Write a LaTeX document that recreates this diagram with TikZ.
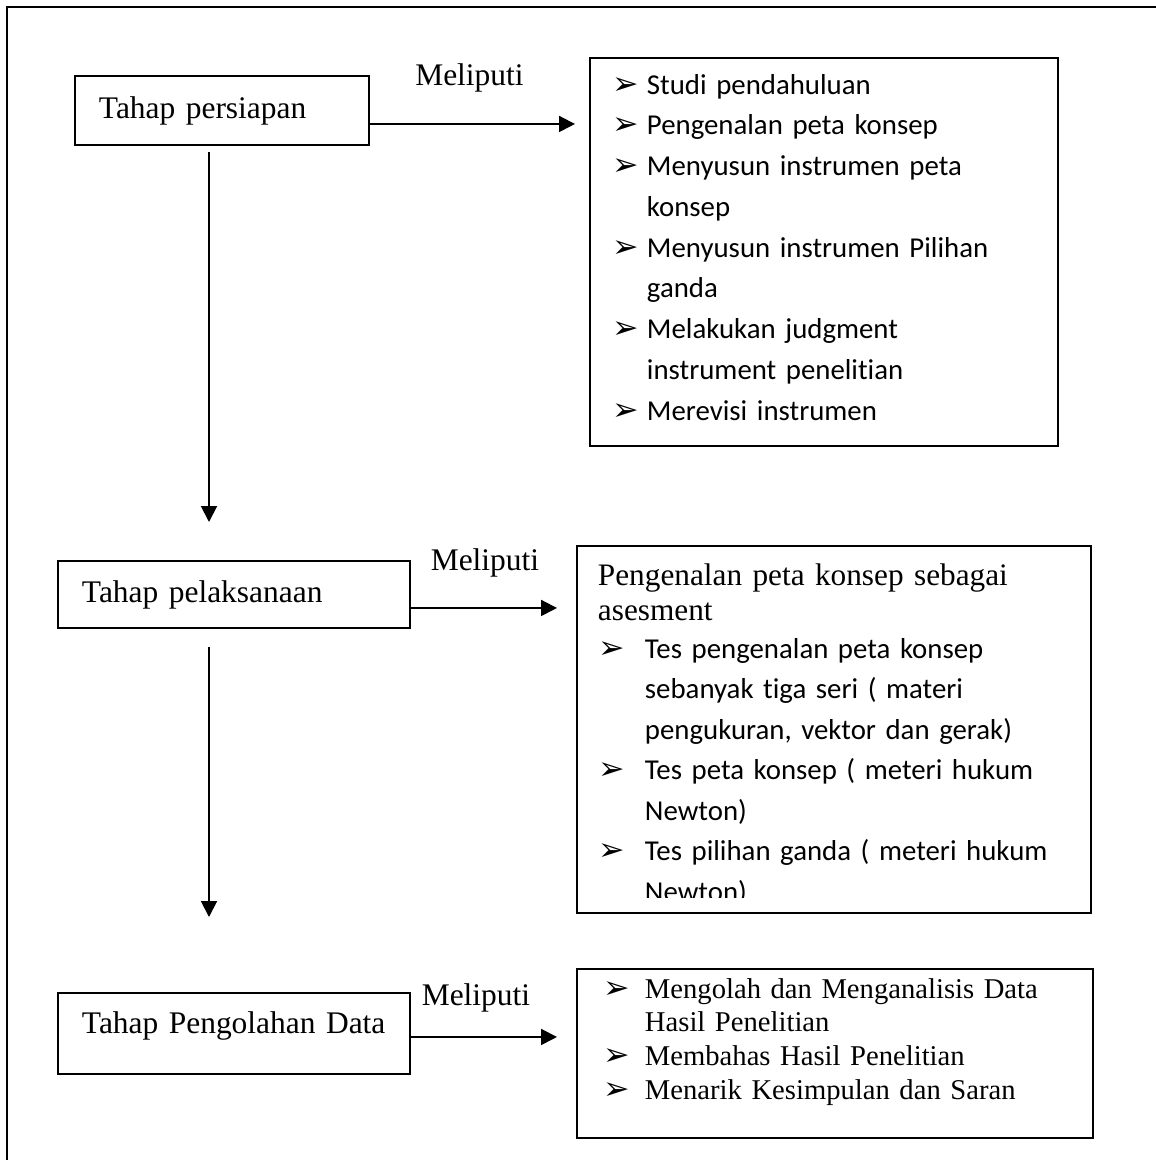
\documentclass[tikz,border=0pt]{standalone}
\usepackage{fontspec}
\setmainfont{Liberation Serif}
\newfontfamily\calibri[Ligatures=NoCommon]{Carlito}
\newfontfamily\simbol{DejaVu Sans}
\usetikzlibrary{arrows.meta,positioning}
\tikzset{every picture/.style={line width=1.1pt}}
\newlength{\pxu}
\setlength{\pxu}{0.02cm}
\newcommand{\panah}[1]{\makebox[#1][l]{\simbol\fontsize{18pt}{18pt}\selectfont ➢}}

\begin{document}
\begin{tikzpicture}[x=0.02cm,y=-0.02cm,
    tahap/.style={draw,anchor=north west,inner ysep=0pt,inner xsep=24\pxu,align=left,
      font=\fontsize{17.9pt}{20pt}\selectfont},
    isi/.style={draw,anchor=north west,inner sep=0pt},
    daftar/.style={anchor=base west,inner sep=0pt,align=left},
    garis/.style={-{Triangle[length=9pt,width=9pt]}},
    ket/.style={anchor=base,inner sep=0pt,font=\fontsize{17.9pt}{20pt}\selectfont}]
  \useasboundingbox (0,0) rectangle (1156,1160);
  % bingkai luar
  \draw (7,1160) -- (7,7) -- (1156,7);

  % tahap
  \node[tahap,minimum width=294\pxu,minimum height=69\pxu,text width=246\pxu] (persiapan) at (74,75) {Tahap persiapan};
  \node[tahap,minimum width=352\pxu,minimum height=67\pxu,text width=304\pxu] (pelaksanaan) at (57,560) {Tahap pelaksanaan};
  \node[tahap,minimum width=352\pxu,minimum height=81\pxu,text width=304\pxu,text depth=21\pxu] (pengolahan) at (57,992) {Tahap Pengolahan Data};

  % kotak isi
  \node[isi,minimum width=468\pxu,minimum height=388\pxu] (isi1) at (589,57) {};
  \node[isi,minimum width=514\pxu,minimum height=367\pxu] (isi2) at (576,545) {};
  \node[isi,minimum width=516\pxu,minimum height=169\pxu] (isi3) at (576,968) {};

  \node[daftar,text width=440\pxu,font=\calibri\fontsize{16.4pt}{23.2pt}\selectfont] (daftar1) at (612,94)
    {\panah{34\pxu}Studi pendahuluan\\
     \panah{34\pxu}Pengenalan peta konsep\\
     \panah{34\pxu}Menyusun instrumen peta\\
     \hspace*{34\pxu}konsep\\
     \panah{34\pxu}Menyusun instrumen Pilihan\\
     \hspace*{34\pxu}ganda\\
     \panah{34\pxu}Melakukan judgment\\
     \hspace*{34\pxu}instrument penelitian\\
     \panah{34\pxu}Merevisi instrumen};

  \begin{scope}
    \clip (isi2.north west) rectangle ([yshift=16\pxu]isi2.south east);
    \node[daftar,text width=480\pxu,font=\fontsize{17.8pt}{20.4pt}\selectfont] (judul2) at (597,585)
      {Pengenalan peta konsep sebagai\\asesment};
    \node[daftar,text width=480\pxu,font=\calibri\fontsize{16.4pt}{23.1pt}\selectfont] (daftar2) at (598,658)
      {\panah{46\pxu}Tes pengenalan peta konsep\\
       \hspace*{46\pxu}sebanyak tiga seri ( materi\\
       \hspace*{46\pxu}pengukuran, vektor dan gerak)\\
       \panah{46\pxu}Tes peta konsep ( meteri hukum\\
       \hspace*{46\pxu}Newton)\\
       \panah{46\pxu}Tes pilihan ganda ( meteri hukum\\
       \hspace*{46\pxu}Newton)};
  \end{scope}

  \node[daftar,text width=480\pxu,font=\fontsize{16.3pt}{19.3pt}\selectfont] (daftar3) at (603,998)
    {\panah{41\pxu}Mengolah dan Menganalisis Data\\
     \hspace*{41\pxu}Hasil Penelitian\\
     \panah{41\pxu}Membahas Hasil Penelitian\\
     \panah{41\pxu}Menarik Kesimpulan dan Saran};

  % panah
  \coordinate (x1) at (209,0);
  \draw[garis,shorten <=6\pxu,shorten >=38\pxu] (persiapan.south -| x1) -- (pelaksanaan.north -| x1);
  \draw[garis,shorten <=18\pxu,shorten >=75\pxu] (pelaksanaan.south -| x1) -- (pengolahan.north -| x1);

  \coordinate (h1) at ([yshift=-13.5\pxu]persiapan.east);
  \coordinate (h2) at ([yshift=-13.5\pxu]pelaksanaan.east);
  \coordinate (h3) at ([yshift=-3.5\pxu]pengolahan.east);
  \draw[garis,shorten >=14\pxu] (h1) -- (h1 -| isi1.west)
    node[ket,midway,xshift=-10\pxu,yshift=38\pxu] (ket1) {Meliputi};
  \draw[garis,shorten >=19\pxu] (h2) -- (h2 -| isi2.west)
    node[ket,midway,xshift=-8.5\pxu,yshift=37\pxu] (ket2) {Meliputi};
  \draw[garis,shorten >=19\pxu] (h3) -- (h3 -| isi3.west)
    node[ket,midway,xshift=-17.5\pxu,yshift=31\pxu] (ket3) {Meliputi};
\end{tikzpicture}
\end{document}
